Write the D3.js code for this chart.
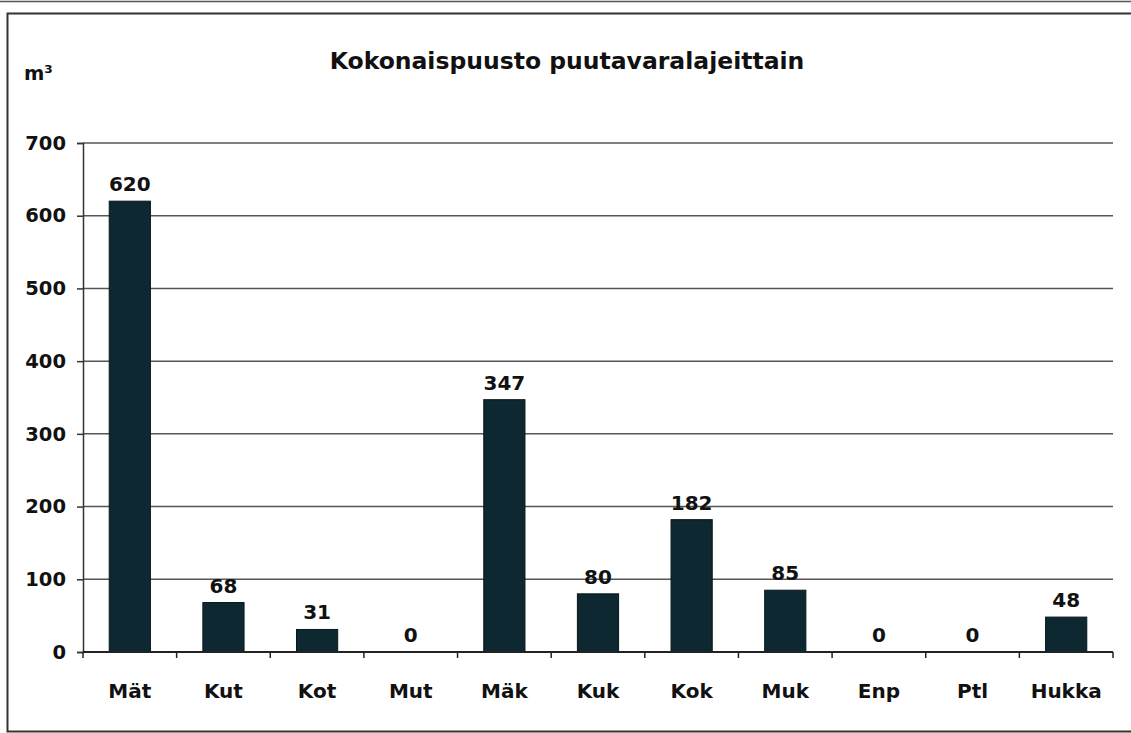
<!DOCTYPE html>
<html>
<head>
<meta charset="utf-8">
<script src="https://cdn.jsdelivr.net/npm/d3@7"></script>
<style>
  body { margin: 0; background: #fff; }
  text { font-family: "DejaVu Sans", Verdana, sans-serif; font-weight: bold; fill: #111; }
</style>
</head>
<body>
<div id="chart"></div>
<script>
// chart data
var categories = ["Mät", "Kut", "Kot", "Mut", "Mäk", "Kuk", "Kok", "Muk", "Enp", "Ptl", "Hukka"];
var volumes = [620, 68, 31, 0, 347, 80, 182, 85, 0, 0, 48];
var yTicks = [0, 100, 200, 300, 400, 500, 600, 700];

var W = 1131, H = 733;
var margin = { top: 143, right: 18, bottom: 81, left: 83 };
var width = W - margin.left - margin.right;
var height = H - margin.top - margin.bottom;

var root = d3.select("#chart").append("svg")
    .attr("width", W)
    .attr("height", H);

// outer frame (scanned page look)
root.append("line")
    .attr("x1", 0).attr("x2", W).attr("y1", 1.5).attr("y2", 1.5)
    .attr("stroke", "#555").attr("stroke-width", 1.5);
root.append("rect")
    .attr("x", 7.5).attr("y", 13.5)
    .attr("width", W + 10).attr("height", 718)
    .attr("fill", "none")
    .attr("stroke", "#333")
    .attr("stroke-width", 2);

var svg = root.append("g")
    .attr("transform", "translate(" + margin.left + "," + margin.top + ")");

var x = d3.scaleBand()
    .domain(categories)
    .range([0, width])
    .paddingInner(0.56)
    .paddingOuter(0.28);

var y = d3.scaleLinear()
    .domain([0, 700])
    .range([height, 0]);

// gridlines
svg.selectAll(".grid")
    .data(yTicks.filter(function(d) { return d > 0; }))
    .enter()
    .append("line")
    .attr("class", "grid")
    .attr("x1", 0)
    .attr("x2", width)
    .attr("y1", function(d) { return y(d); })
    .attr("y2", function(d) { return y(d); })
    .attr("stroke", "#555")
    .attr("stroke-width", 1.5);

// y axis
var yAxis = svg.append("g")
    .call(d3.axisLeft(y).tickValues(yTicks).tickSize(6).tickPadding(11));
yAxis.select(".domain").attr("stroke", "#333").attr("stroke-width", 1.5);
yAxis.selectAll(".tick line").attr("stroke", "#333").attr("stroke-width", 1.5);
yAxis.selectAll("text")
    .style("font-size", "19.5px")
    .style("font-family", "'DejaVu Sans', Verdana, sans-serif")
    .style("font-weight", "bold")
    .attr("fill", "#111");

// bars
svg.selectAll(".bar")
    .data(volumes)
    .enter()
    .append("rect")
    .attr("class", "bar")
    .attr("x", function(d, i) { return x(categories[i]); })
    .attr("width", x.bandwidth())
    .attr("y", function(d) { return y(d); })
    .attr("height", function(d) { return height - y(d); })
    .attr("fill", "#0d2830")
    .attr("stroke", "#07181c")
    .attr("stroke-width", 1);

// x axis
var band = x.step();
var xTickPos = d3.range(categories.length + 1).map(function(i) { return i * band; });
svg.append("line")
    .attr("x1", 0).attr("x2", width)
    .attr("y1", height).attr("y2", height)
    .attr("stroke", "#222").attr("stroke-width", 2);
svg.selectAll(".xtick")
    .data(xTickPos)
    .enter()
    .append("line")
    .attr("x1", function(d) { return d; })
    .attr("x2", function(d) { return d; })
    .attr("y1", height)
    .attr("y2", height + 6)
    .attr("stroke", "#222")
    .attr("stroke-width", 1.5);

svg.selectAll(".xlabel")
    .data(categories)
    .enter()
    .append("text")
    .attr("class", "xlabel")
    .attr("x", function(d) { return x(d) + x.bandwidth() / 2; })
    .attr("y", height + 46)
    .style("text-anchor", "middle")
    .style("font-size", "20px")
    .text(function(d) { return d; });

// value labels
svg.selectAll(".value")
    .data(volumes)
    .enter()
    .append("text")
    .attr("class", "value")
    .attr("x", function(d, i) { return x(categories[i]) + x.bandwidth() / 2; })
    .attr("y", function(d) { return y(d) - 10; })
    .style("text-anchor", "middle")
    .style("font-size", "20px")
    .text(function(d) { return d; });

// title
root.append("text")
    .attr("x", 567)
    .attr("y", 69)
    .style("text-anchor", "middle")
    .style("font-size", "23.5px")
    .text("Kokonaispuusto puutavaralajeittain");

// unit label
root.append("text")
    .attr("x", 24)
    .attr("y", 80)
    .style("font-size", "19.5px")
    .text("m³");
</script>
</body>
</html>
